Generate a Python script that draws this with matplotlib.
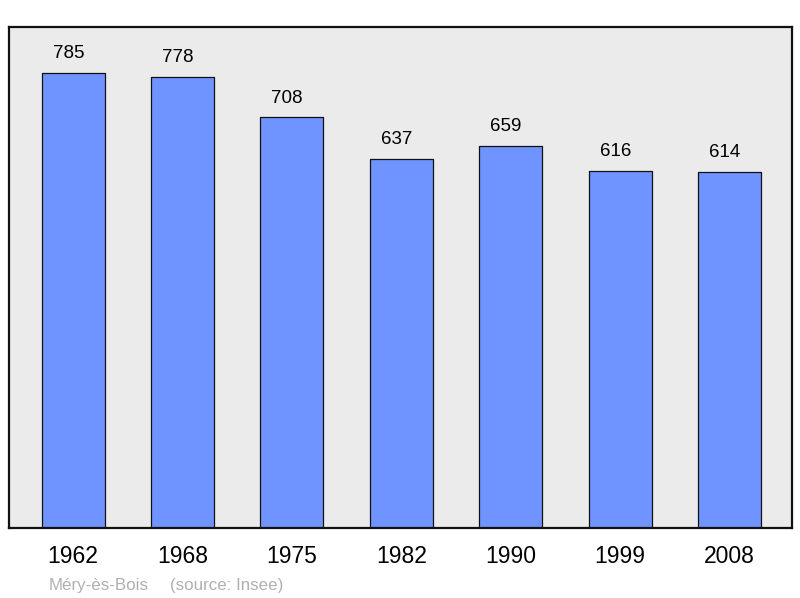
import matplotlib
matplotlib.use("Agg")
import matplotlib.pyplot as plt
import numpy as np

plt.rcParams['font.family'] = ['Liberation Sans', 'DejaVu Sans']

# population per census year
years = ['1962', '1968', '1975', '1982', '1990', '1999', '2008']
population = [785, 778, 708, 637, 659, 616, 614]
town = 'Méry-ès-Bois'
source = '(source: Insee)'

fig = plt.figure(figsize=(8, 5.98), dpi=100)
ax = fig.add_axes([9/800, 70/598, 783/800, 501/598])
ax.set_facecolor('#ebebeb')

x = np.arange(len(years))
bars = ax.bar(x, population, width=0.576, color='#7094ff',
              edgecolor='#111111', linewidth=0.9, zorder=2,
              joinstyle='round')

# value labels sit a little left of the bar centre, like the original
for xi, val in zip(x, population):
    ax.annotate(str(val), (xi, val), xytext=(-3.4, 10.6), textcoords='offset points',
                ha='center', va='baseline', fontsize=13.5, color='black')

ax.set_xlim(-0.585, 6.57)
ax.set_ylim(0, 864)
ax.set_yticks([])
ax.set_xticks(x)
ax.set_xticklabels(years, fontsize=16.5)
ax.tick_params(axis='x', length=0, pad=12)

for sp in ax.spines.values():
    sp.set_linewidth(1.6)
    sp.set_color('#111111')

fig.text(49/800, 1 - 590/598, town, fontsize=12.2,
         color='#b0b0b0', ha='left', va='baseline')
fig.text(170/800, 1 - 590/598, source, fontsize=12.2,
         color='#b0b0b0', ha='left', va='baseline')

fig.savefig('out.png', dpi=100)
